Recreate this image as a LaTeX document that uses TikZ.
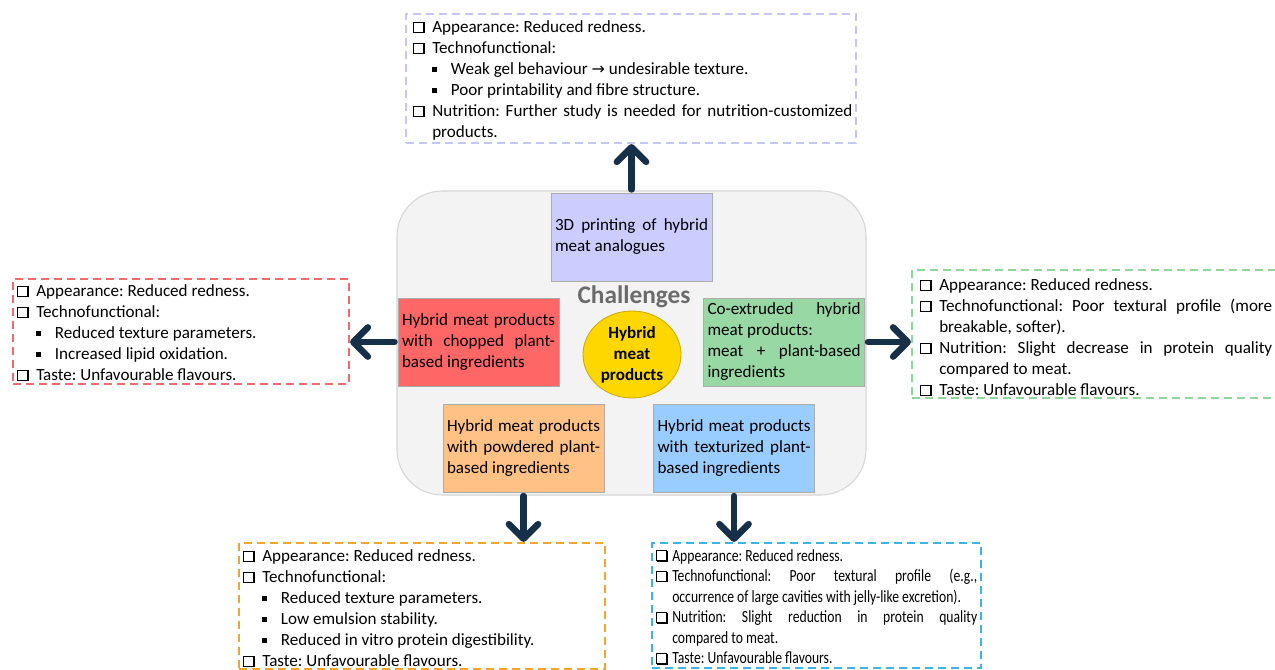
\documentclass[tikz,border=0pt]{standalone}
\usepackage{fontspec}
\setmainfont{Carlito}
\newfontfamily\dv{DejaVu Sans}
\newfontfamily\narrowf[FakeStretch=0.80]{Carlito}
\usetikzlibrary{arrows.meta,fit,shapes.geometric}
\hyphenpenalty=10000
\frenchspacing
\definecolor{bgc}{HTML}{F3F3F3}
\definecolor{bgd}{HTML}{D6D6D6}
\definecolor{c3d}{HTML}{CCCCFF}
\definecolor{cred}{HTML}{FF6666}
\definecolor{cgrn}{HTML}{97D8A5}
\definecolor{corg}{HTML}{FFC184}
\definecolor{cblu}{HTML}{99CCFF}
\definecolor{cgold}{HTML}{FFD700}
\definecolor{cgoldd}{HTML}{C9A800}
\definecolor{chg}{HTML}{6B6B6B}
\definecolor{arrc}{HTML}{17304A}
\definecolor{dtop}{HTML}{C6C6F4}
\definecolor{dred}{HTML}{F26B6B}
\definecolor{dgrn}{HTML}{8ED69C}
\definecolor{dorg}{HTML}{F5A52B}
\definecolor{dblu}{HTML}{3CB4E5}
\newcommand{\shbox}{{\setlength{\fboxsep}{0pt}\setlength{\fboxrule}{0.7pt}\makebox[0pt][l]{\hspace{1.3pt}\raisebox{-0.6pt}{\rule{8.2pt}{8.2pt}}}\raisebox{0.7pt}{\fcolorbox{black}{white}{\rule{0pt}{6.8pt}\hspace{6.8pt}}}}}
\newcommand{\cbx}{\makebox[15pt][l]{\hspace{0.3pt}\shbox}}
\newcommand{\ci}{\par\hangindent=15pt\hangafter=1\noindent\rule{0pt}{11pt}\cbx}
\newcommand{\si}{\par\hangindent=29pt\hangafter=1\noindent\rule{0pt}{11pt}\hspace{15pt}\makebox[14pt][l]{\raisebox{2pt}{\rule{3.4pt}{3.4pt}}}}
\newcommand{\cin}{\par\hangindent=12.75pt\hangafter=1\noindent\rule{0pt}{11pt}\makebox[12.75pt][l]{\hspace{0.3pt}\shbox}}
\begin{document}
\begin{tikzpicture}[x={(0.75pt,0)},y={(0,-0.75pt)},
  dbox/.style={draw=#1, dash pattern=on 6pt off 3.75pt, line width=1.6pt, inner sep=0},
  txt/.style={anchor=north west, inner sep=0, align=justify, font=\fontsize{12.8}{15.75}\selectfont},
  cbox/.style={draw=gray!65, line width=0.6pt, fill=#1, text width=114.75pt, inner xsep=3pt, inner ysep=0pt, minimum height=66pt, align=justify, font=\fontsize{12.8}{15.75}\selectfont},
  arr/.style={line width=4.8pt, draw=arrc, line cap=round, shorten <=2.3pt, -{Straight Barb[length=11pt,width=22pt,round]}}]
\useasboundingbox (0,0) rectangle (1275,670);
\clip (0,0) rectangle (1275,670);
\fill[white] (0,0) rectangle (1275,670);
% background
\node[fit={(397,191) (866,495)}, inner sep=0, rounded corners=34pt, fill=bgc, draw=bgd, line width=0.8pt] (bg) {};
% central boxes
\node[cbox=c3d] (p3d) at (631.5,237) {3D printing of hybrid\linebreak meat analogues};
\node[cbox=cred] (red) at (478.5,342) {Hybrid meat products\linebreak with chopped plant-\linebreak based ingredients};
\node[cbox=cgrn] (grn) at (784,342) {Co-extruded hybrid\linebreak meat products:\newline meat + plant-based\linebreak ingredients};
\node[cbox=corg] (org) at (523.5,448.5) {Hybrid meat products\linebreak with powdered plant-\linebreak based ingredients};
\node[cbox=cblu] (blu) at (734,448.5) {Hybrid meat products\linebreak with texturized plant-\linebreak based ingredients};
\node[ellipse, minimum width=73.5pt, minimum height=65.25pt, inner sep=0, fill=cgold, draw=cgoldd, line width=0.6pt, align=center, font=\bfseries\fontsize{12.8}{15.75}\selectfont] (hyb) at (632,354.5) {Hybrid\\meat\\products};
\node[anchor=base, inner sep=0, font=\bfseries\fontsize{19}{19}\selectfont, text=chg] (chl) at (634,304) {Challenges};
% dashed boxes
\node[dbox=dtop, fit={(406,14) (856,143)}] (tbox) {};
\node[dbox=dred, fit={(13,279) (349,384)}] (lbox) {};
\node[dbox=dgrn, fit={(912,270) (1290,398)}] (rbox) {};
\node[dbox=dorg, fit={(239,543) (605,669)}] (obox) {};
\node[dbox=dblu, fit={(652,543) (981,668)}] (bbox) {};
% texts
\node[txt, text width=330pt] (ttxt) at (412,11.3) {\ci Appearance: Reduced redness.
\ci Technofunctional:
\si Weak gel behaviour {\dv\fontsize{12}{12}\selectfont →} undesirable texture.
\si Poor printability and fibre structure.
\ci Nutrition: Further study is needed for nutrition-customized\linebreak products.\par};
\node[txt, text width=300pt] (ltxt) at (16,275.3) {\ci Appearance: Reduced redness.
\ci Technofunctional:
\si Reduced texture parameters.
\si Increased lipid oxidation.
\ci Taste: Unfavourable flavours.\par};
\node[txt, text width=264.75pt] (rtxt) at (919,269.3) {\ci Appearance: Reduced redness.
\ci Technofunctional: Poor textural profile (more\linebreak breakable, softer).
\ci Nutrition: Slight decrease in protein quality\linebreak compared to meat.
\ci Taste: Unfavourable flavours.\par};
\node[txt, text width=270pt] (otxt) at (242,540.3) {\ci Appearance: Reduced redness.
\ci Technofunctional:
\si Reduced texture parameters.
\si Low emulsion stability.
\si Reduced in vitro protein digestibility.
\ci Taste: Unfavourable flavours.\par};
\node[txt, text width=241.5pt, font=\narrowf\fontsize{12.8}{15.4}\selectfont] (btxt) at (655,540.3) {\cin Appearance: Reduced redness.
\cin Technofunctional: Poor textural profile (e.g.,\linebreak occurrence of large cavities with jelly-like excretion).
\cin Nutrition: Slight reduction in protein quality\linebreak compared to meat.
\cin Taste: Unfavourable flavours.\par};
% arrows
\draw[arr] (p3d.north) -- (p3d.north |- tbox.south);
\draw[arr] (red.west) -- (red.west -| lbox.east);
\draw[arr] (grn.east) -- (grn.east -| rbox.west);
\draw[arr] (org.south) -- (org.south |- obox.north);
\draw[arr] (blu.south) -- (blu.south |- bbox.north);
\end{tikzpicture}
\end{document}
